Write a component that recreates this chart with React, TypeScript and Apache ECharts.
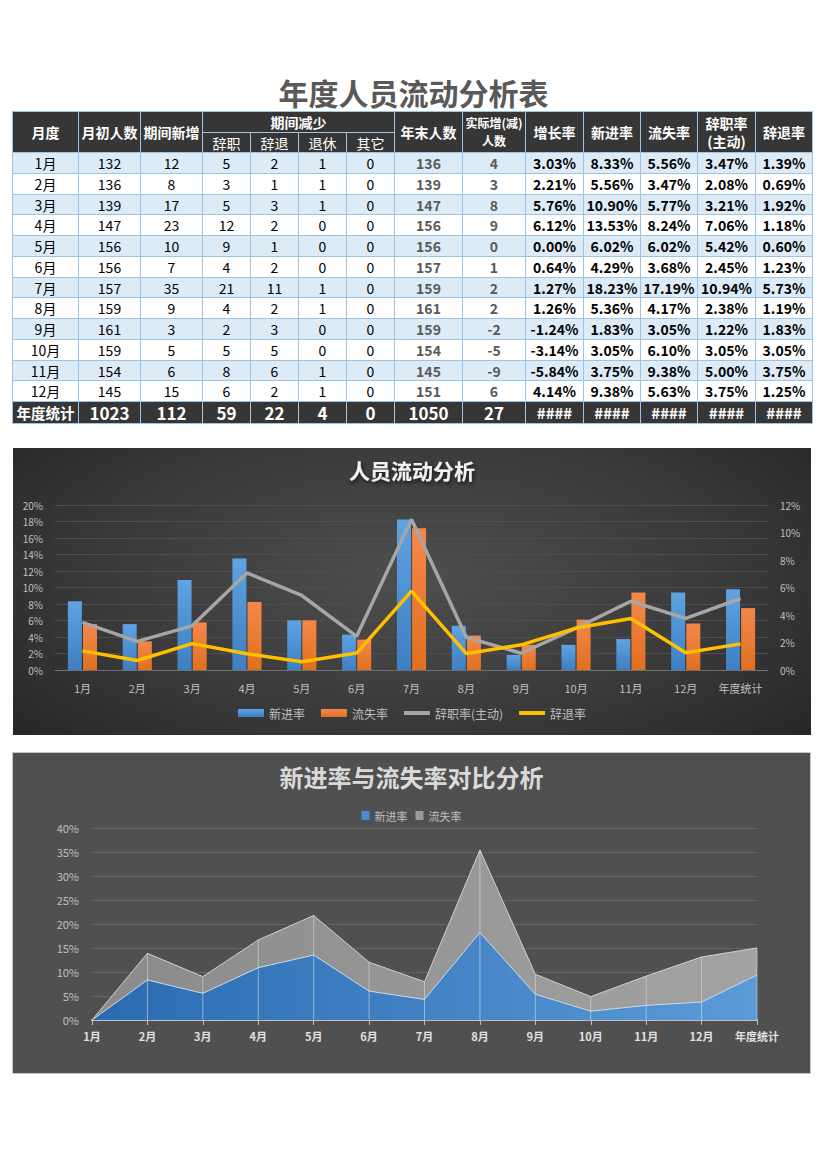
import React, { useEffect, useRef } from "react";
import * as echarts from "echarts";

const FONT = '"Noto Sans CJK SC", "Noto Sans", sans-serif';

// ---------- table data ----------
const months = ["1月", "2月", "3月", "4月", "5月", "6月", "7月", "8月", "9月", "10月", "11月", "12月"];
const startCount = [132, 136, 139, 147, 156, 156, 157, 159, 161, 159, 154, 145];
const newAdd = [12, 8, 17, 23, 10, 7, 35, 9, 3, 5, 6, 15];
const resignCnt = [5, 3, 5, 12, 9, 4, 21, 4, 2, 5, 8, 6];
const dismissCnt = [2, 1, 3, 2, 1, 2, 11, 2, 3, 5, 6, 2];
const retireCnt = [1, 1, 1, 0, 0, 0, 1, 1, 0, 0, 1, 1];
const otherCnt = [0, 0, 0, 0, 0, 0, 0, 0, 0, 0, 0, 0];
const endCount = [136, 139, 147, 156, 156, 157, 159, 161, 159, 154, 145, 151];
const netChange = [4, 3, 8, 9, 0, 1, 2, 2, -2, -5, -9, 6];
const growthRate = [3.03, 2.21, 5.76, 6.12, 0.0, 0.64, 1.27, 1.26, -1.24, -3.14, -5.84, 4.14];
const newRate = [8.33, 5.56, 10.9, 13.53, 6.02, 4.29, 18.23, 5.36, 1.83, 3.05, 3.75, 9.38];
const lossRate = [5.56, 3.47, 5.77, 8.24, 6.02, 3.68, 17.19, 4.17, 3.05, 6.1, 9.38, 5.63];
const resignRate = [3.47, 2.08, 3.21, 7.06, 5.42, 2.45, 10.94, 2.38, 1.22, 3.05, 5.0, 3.75];
const dismissRate = [1.39, 0.69, 1.92, 1.18, 0.6, 1.23, 5.73, 1.19, 1.83, 3.05, 3.75, 1.25];
const totalRow = ["年度统计", "1023", "112", "59", "22", "4", "0", "1050", "27", "####", "####", "####", "####", "####"];

// ---------- chart 1 data ----------
const cats1 = [...months, "年度统计"];
const annualNew = 9.8;
const annualLoss = 7.5;
const annualResign = 5.2;
const annualDismiss = 1.9;

// ---------- chart 2 data ----------
const cats2 = [...months, "年度统计"];
const areaNew = [0, ...newRate];
const areaLoss = [0, ...lossRate];

const colX = [12, 78, 140, 202, 250, 298, 346, 394, 462, 525, 583, 640, 697, 755, 812];
const BORDER = "#9dc3e6";
const HEAD_BG = "#363636";

function Cell(props: {
  x0: number; x1: number; y0: number; y1: number; bg: string; color: string;
  bold?: boolean; size?: number; children?: any; lh?: number;
}) {
  const { x0, x1, y0, y1, bg, color, bold, size, children, lh } = props;
  return (
    <div
      style={{
        position: "absolute", left: x0, top: y0, width: x1 - x0 + 1, height: y1 - y0 + 1,
        boxSizing: "border-box", border: `1px solid ${BORDER}`, background: bg, color,
        fontWeight: bold ? "bold" : "normal", fontSize: size || 14, display: "flex",
        alignItems: "center", justifyContent: "center", textAlign: "center", overflow: "hidden",
        lineHeight: lh ? `${lh}px` : "normal", fontFamily: FONT, whiteSpace: "nowrap",
      }}
    >
      {children}
    </div>
  );
}

function Table() {
  const H0 = 111, H1 = 132, H2 = 152;
  const rowH = 20.75;
  const cells: any[] = [];
  const heads = ["月度", "月初人数", "期间新增"];
  heads.forEach((t, i) =>
    cells.push(<Cell key={"h" + i} x0={colX[i]} x1={colX[i + 1]} y0={H0} y1={H2} bg={HEAD_BG} color="#fff" bold>{t}</Cell>)
  );
  cells.push(<Cell key="hq" x0={colX[3]} x1={colX[7]} y0={H0} y1={H1} bg={HEAD_BG} color="#fff" bold>期间减少</Cell>);
  ["辞职", "辞退", "退休", "其它"].forEach((t, i) =>
    cells.push(<Cell key={"hs" + i} x0={colX[3 + i]} x1={colX[4 + i]} y0={H1} y1={H2} bg={HEAD_BG} color="#fff">{t}</Cell>)
  );
  cells.push(<Cell key="h7" x0={colX[7]} x1={colX[8]} y0={H0} y1={H2} bg={HEAD_BG} color="#fff" bold>年末人数</Cell>);
  cells.push(
    <Cell key="h8" x0={colX[8]} x1={colX[9]} y0={H0} y1={H2} bg={HEAD_BG} color="#fff" bold size={12} lh={18}>
      <div style={{ whiteSpace: "nowrap" }}>实际增(减)<br />人数</div>
    </Cell>
  );
  ["增长率", "新进率", "流失率"].forEach((t, i) =>
    cells.push(<Cell key={"hr" + i} x0={colX[9 + i]} x1={colX[10 + i]} y0={H0} y1={H2} bg={HEAD_BG} color="#fff" bold>{t}</Cell>)
  );
  cells.push(
    <Cell key="h12" x0={colX[12]} x1={colX[13]} y0={H0} y1={H2} bg={HEAD_BG} color="#fff" bold lh={18}>
      <div>辞职率<br />(主动)</div>
    </Cell>
  );
  cells.push(<Cell key="h13" x0={colX[13]} x1={colX[14]} y0={H0} y1={H2} bg={HEAD_BG} color="#fff" bold>辞退率</Cell>);

  const pct = (v: number) => v.toFixed(2) + "%";
  for (let r = 0; r < 12; r++) {
    const y0 = Math.round(H2 + r * rowH);
    const y1 = Math.round(H2 + (r + 1) * rowH);
    const bg = r % 2 === 0 ? "#ddebf7" : "#ffffff";
    const vals = [
      months[r], startCount[r], newAdd[r], resignCnt[r], dismissCnt[r], retireCnt[r], otherCnt[r],
      endCount[r], netChange[r], pct(growthRate[r]), pct(newRate[r]), pct(lossRate[r]), pct(resignRate[r]), pct(dismissRate[r]),
    ];
    vals.forEach((v, c) => {
      const color = c === 7 || c === 8 ? "#595959" : "#000";
      const bold = c >= 7;
      cells.push(
        <Cell key={`r${r}c${c}`} x0={colX[c]} x1={colX[c + 1]} y0={y0} y1={y1} bg={bg} color={color} bold={bold} size={14}>
          {String(v)}
        </Cell>
      );
    });
  }
  const ty0 = Math.round(H2 + 12 * rowH);
  totalRow.forEach((v, c) =>
    cells.push(
      <Cell key={`t${c}`} x0={colX[c]} x1={colX[c + 1]} y0={ty0} y1={423} bg={HEAD_BG} color="#fff" bold size={c === 0 ? 14.5 : c >= 9 ? 15 : 17}>
        {v}
      </Cell>
    )
  );
  return <>{cells}</>;
}

const LINE_ICON = "path://M0,0 L26,0 L26,4 L0,4 Z";

function Chart1() {
  const ref = useRef<HTMLDivElement>(null);
  useEffect(() => {
    const chart = echarts.init(ref.current!, undefined, { renderer: "svg" });
    const barNew = [...newRate, annualNew];
    const barLoss = [...lossRate, annualLoss];
    const lineResign = [...resignRate, annualResign];
    const lineDismiss = [...dismissRate, annualDismiss];
    chart.setOption({
      animation: false,
      backgroundColor: "transparent",
      textStyle: { fontFamily: FONT },
      title: {
        text: "人员流动分析", left: "center", top: 6,
        textStyle: { color: "#f2f2f2", fontSize: 21, fontWeight: "bold", fontFamily: FONT, textShadowColor: "rgba(0,0,0,0.7)", textShadowBlur: 4, textShadowOffsetX: 1, textShadowOffsetY: 2 },
      },
      grid: { left: 42, right: 43, top: 57, bottom: 65 },
      legend: {
        bottom: 11, left: "center", itemWidth: 26, itemHeight: 8, itemGap: 16,
        textStyle: { color: "#bfbfbf", fontSize: 12, fontFamily: FONT },
        data: [
          { name: "新进率", icon: "rect" },
          { name: "流失率", icon: "rect" },
          { name: "辞职率(主动)", icon: LINE_ICON, itemStyle: { color: "#a6a6a6" } },
          { name: "辞退率", icon: LINE_ICON, itemStyle: { color: "#ffc000" } },
        ],
      },
      xAxis: {
        type: "category", data: cats1,
        axisLine: { lineStyle: { color: "#707070" } }, axisTick: { show: false },
        axisLabel: { color: "#bfbfbf", fontSize: 11, margin: 12, fontFamily: FONT, interval: 0 },
      },
      yAxis: [
        {
          type: "value", min: 0, max: 20, interval: 2,
          axisLabel: { formatter: "{value}%", color: "#bfbfbf", fontSize: 10, margin: 12, fontFamily: FONT },
          axisLine: { show: false }, axisTick: { show: false },
          splitLine: { lineStyle: { color: "#4e4e4e", width: 1 } },
        },
        {
          type: "value", min: 0, max: 12, interval: 2,
          axisLabel: { formatter: "{value}%", color: "#bfbfbf", fontSize: 10, margin: 12, fontFamily: FONT },
          axisLine: { show: false }, axisTick: { show: false }, splitLine: { show: false },
        },
      ],
      series: [
        {
          name: "新进率", type: "bar", data: barNew, barWidth: 14, barGap: "8%",
          itemStyle: {
            color: new echarts.graphic.LinearGradient(0, 0, 0, 1, [
              { offset: 0, color: "#5fa3e3" }, { offset: 1, color: "#3d7fc2" },
            ]),
          },
        },
        {
          name: "流失率", type: "bar", data: barLoss, barWidth: 14,
          itemStyle: {
            color: new echarts.graphic.LinearGradient(0, 0, 0, 1, [
              { offset: 0, color: "#f4884a" }, { offset: 1, color: "#e0701f" },
            ]),
          },
        },
        {
          name: "辞职率(主动)", type: "line", yAxisIndex: 1, data: lineResign, symbol: "none",
          lineStyle: { color: "#a6a6a6", width: 3.5 }, itemStyle: { color: "#a6a6a6" }, z: 5,
        },
        {
          name: "辞退率", type: "line", yAxisIndex: 1, data: lineDismiss, symbol: "none",
          lineStyle: { color: "#ffc000", width: 3.5 }, itemStyle: { color: "#ffc000" }, z: 6,
        },
      ],
    });
    return () => chart.dispose();
  }, []);
  return (
    <div
      ref={ref}
      style={{
        position: "absolute", left: 13, top: 448, width: 798, height: 287,
        background: "radial-gradient(ellipse 70% 90% at 50% 45%, #4e4e4e 0%, #3a3a3a 55%, #242424 100%)",
      }}
    />
  );
}

function Chart2() {
  const ref = useRef<HTMLDivElement>(null);
  useEffect(() => {
    const chart = echarts.init(ref.current!, undefined, { renderer: "svg" });
    const totals = areaNew.map((v, i) => +(v + areaLoss[i]).toFixed(2));
    chart.setOption({
      animation: false,
      backgroundColor: "transparent",
      textStyle: { fontFamily: FONT },
      title: {
        text: "新进率与流失率对比分析", left: "center", top: 6,
        textStyle: { color: "#d9d9d9", fontSize: 24, fontWeight: "bold", fontFamily: FONT },
      },
      legend: {
        top: 52, left: "center", itemWidth: 8, itemHeight: 9, itemGap: 8,
        textStyle: { color: "#bfbfbf", fontSize: 11, fontFamily: FONT },
        data: [
          { name: "新进率", icon: "rect", itemStyle: { color: "#4a8ad0" } },
          { name: "流失率", icon: "rect", itemStyle: { color: "#9a9a9a" } },
        ],
      },
      grid: { left: 79, right: 53, top: 75, bottom: 53 },
      xAxis: {
        type: "category", boundaryGap: false, data: cats2,
        axisLine: { lineStyle: { color: "#bfbfbf", width: 2 } },
        axisTick: { show: true, length: 5, interval: 0, lineStyle: { color: "#bfbfbf" } },
        axisLabel: { color: "#e0e0e0", fontSize: 11, fontWeight: "bold", margin: 10, fontFamily: FONT, interval: 0 },
      },
      yAxis: {
        type: "value", min: 0, max: 40, interval: 5,
        axisLabel: { formatter: "{value}%", color: "#bfbfbf", fontSize: 11, margin: 13, fontFamily: FONT },
        axisLine: { show: false }, axisTick: { show: false },
        splitLine: { lineStyle: { color: "#7a7a7a", type: "dotted" } },
      },
      series: [
        {
          name: "新进率", type: "line", stack: "a", data: areaNew, symbol: "none",
          lineStyle: { color: "#c9dcf0", width: 1 },
          itemStyle: { color: "#4a8ad0" },
          areaStyle: {
            opacity: 1,
            color: new echarts.graphic.LinearGradient(0, 0, 1, 0, [
              { offset: 0, color: "#2a6ab0" }, { offset: 1, color: "#5b9bd8" },
            ]),
          },
          z: 2,
        },
        {
          name: "流失率", type: "line", stack: "a", data: areaLoss, symbol: "none",
          lineStyle: { color: "#d0d0d0", width: 1 },
          itemStyle: { color: "#9a9a9a" },
          areaStyle: {
            opacity: 1,
            color: new echarts.graphic.LinearGradient(0, 0, 1, 0, [
              { offset: 0, color: "#8a8a8a" }, { offset: 1, color: "#a3a3a3" },
            ]),
          },
          z: 2,
        },
        {
          name: "drop", type: "bar", data: totals, barWidth: 1, silent: true,
          itemStyle: { color: "rgba(225,225,225,0.55)" }, z: 3,
        },
      ],
    });
    return () => chart.dispose();
  }, []);
  return (
    <div
      ref={ref}
      style={{
        position: "absolute", left: 12, top: 752, width: 799, height: 322,
        background: "#505050", boxSizing: "border-box", border: "1px solid #c8c8c8",
      }}
    />
  );
}

export default function App() {
  return (
    <div style={{ position: "absolute", left: 0, top: 0, width: 827, height: 1170, background: "#fff", fontFamily: FONT }}>
      <div
        style={{
          position: "absolute", left: 0, top: 72, width: 827, textAlign: "center", fontSize: 30,
          fontWeight: "bold", color: "#595959", fontFamily: FONT, lineHeight: "40px",
        }}
      >
        年度人员流动分析表
      </div>
      <Table />
      <Chart1 />
      <Chart2 />
    </div>
  );
}
